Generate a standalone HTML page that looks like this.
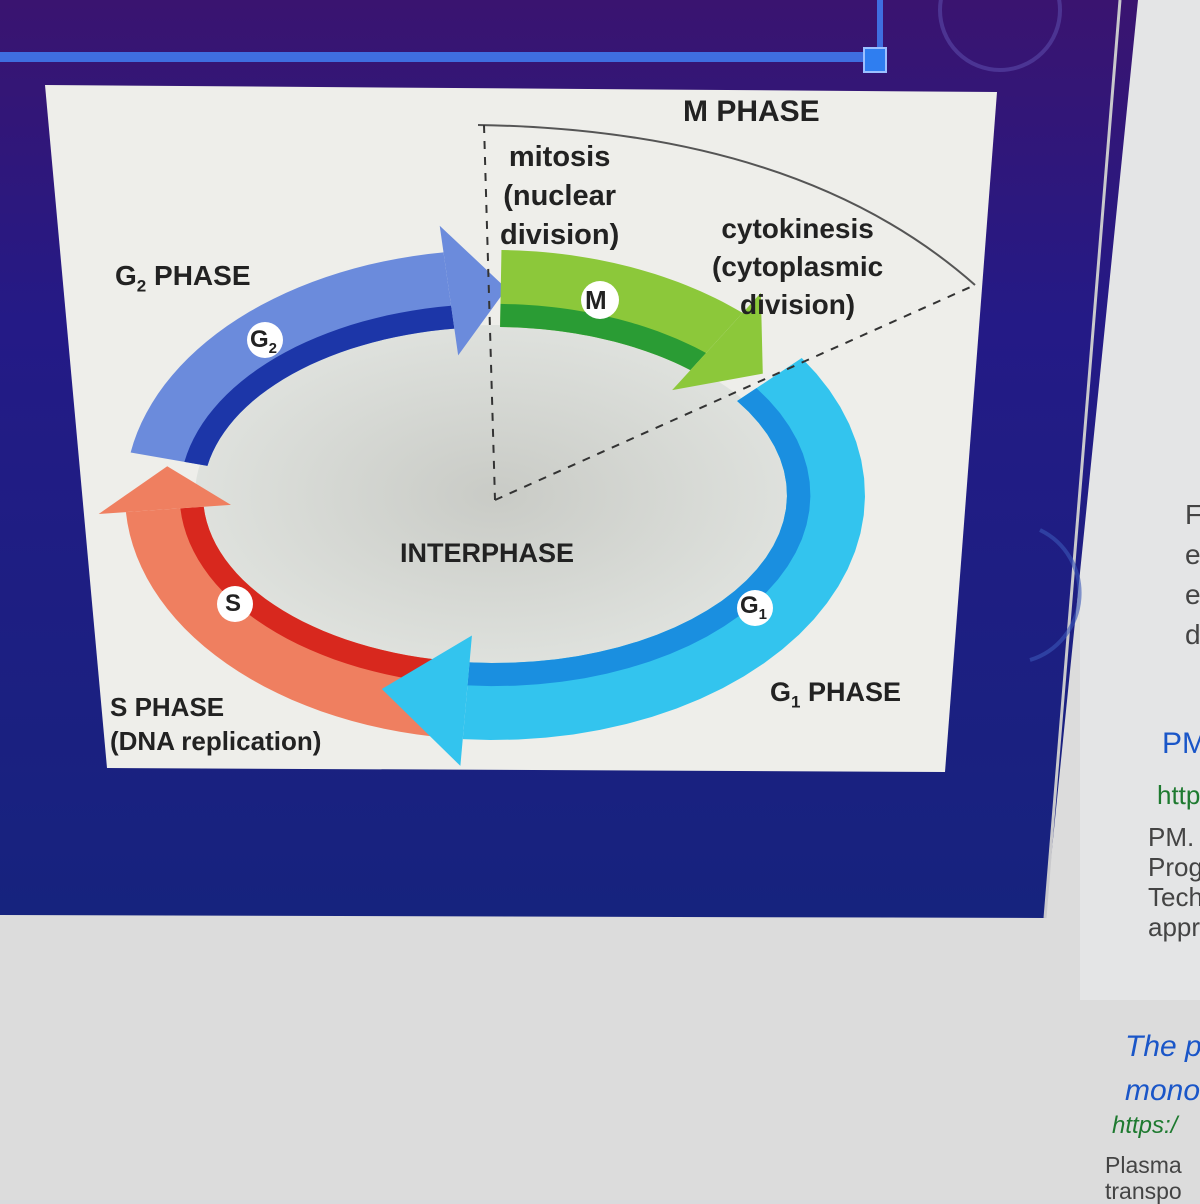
<!DOCTYPE html>
<html><head><meta charset="utf-8"><style>
html,body{margin:0;padding:0;width:1200px;height:1200px;overflow:hidden;background:#d9dbdd;font-family:"Liberation Sans",sans-serif}
#bg{position:absolute;left:0;top:0;width:1200px;height:1200px}
.t{position:absolute;font-family:"Liberation Sans",sans-serif;white-space:nowrap}
</style></head><body>
<svg id="bg" width="1200" height="1200" viewBox="0 0 1200 1200" xmlns="http://www.w3.org/2000/svg">
<defs>
<linearGradient id="scr" x1="0" y1="0" x2="0" y2="1">
<stop offset="0" stop-color="#3a1470"/><stop offset="0.35" stop-color="#241a86"/><stop offset="1" stop-color="#16237e"/>
</linearGradient>
<radialGradient id="inner" cx="0.5" cy="0.5" r="0.6">
<stop offset="0" stop-color="#c9cbc6"/><stop offset="1" stop-color="#e3e6e2"/>
</radialGradient>
</defs>
<rect width="1200" height="1200" fill="#dcdcdc"/>
<rect x="1080" y="0" width="120" height="1000" fill="#e4e5e6"/>
<polygon points="0,0 1138,0 1045,918 0,915" fill="url(#scr)"/>
<line x1="1120" y1="0" x2="1045" y2="918" stroke="#c9c9cc" stroke-width="3"/>
<rect x="0" y="52" width="868" height="10" fill="#3f6ee0"/>
<rect x="877" y="0" width="6" height="50" fill="#3f6ee0"/>
<rect x="864" y="48" width="22" height="24" fill="#2f7ef0" stroke="#9cc0ff" stroke-width="2"/>
<path d="M1040,530 A70,70 0 0 1 1030,660" fill="none" stroke="#3b56b8" stroke-width="4" opacity="0.6"/>
<circle cx="1000" cy="10" r="60" fill="none" stroke="#5a4aa8" stroke-width="4" opacity="0.6"/>
<polygon points="45,85 997,92 945,772 107,768" fill="#eeeeea"/>
<ellipse cx="495" cy="495" rx="300" ry="170" fill="url(#inner)"/>
<g id="ring"></g>
<path d="M478,125 Q800,130 975,285" fill="none" stroke="#555" stroke-width="2"/>
<line x1="484" y1="125" x2="495" y2="500" stroke="#333" stroke-width="2" stroke-dasharray="8,8"/>
<line x1="495" y1="500" x2="975" y2="285" stroke="#333" stroke-width="2" stroke-dasharray="8,8"/>
<circle cx="600" cy="300" r="19" fill="#fff"/>
<circle cx="265" cy="340" r="18" fill="#fff"/>
<circle cx="235" cy="604" r="18" fill="#fff"/>
<circle cx="755" cy="608" r="18" fill="#fff"/>
</svg>
<div class="t" style="left:683px;top:95px;font-size:30px;font-weight:bold;color:#222">M PHASE</div>
<div class="t" style="left:500px;top:138px;font-size:29px;font-weight:bold;color:#222;line-height:39px;text-align:center">mitosis<br>(nuclear<br>division)</div>
<div class="t" style="left:712px;top:210px;font-size:28px;font-weight:bold;color:#222;line-height:38px;text-align:center">cytokinesis<br>(cytoplasmic<br>division)</div>
<div class="t" style="left:115px;top:260px;font-size:28px;font-weight:bold;color:#222">G<sub style="font-size:17px">2</sub> PHASE</div>
<div class="t" style="left:585px;top:285px;font-size:26px;font-weight:bold;color:#222">M</div>
<div class="t" style="left:250px;top:326px;font-size:24px;font-weight:bold;color:#222">G<sub style="font-size:15px">2</sub></div>
<div class="t" style="left:225px;top:590px;font-size:24px;font-weight:bold;color:#222">S</div>
<div class="t" style="left:740px;top:592px;font-size:24px;font-weight:bold;color:#222">G<sub style="font-size:15px">1</sub></div>
<div class="t" style="left:400px;top:538px;font-size:27px;font-weight:bold;color:#222">INTERPHASE</div>
<div class="t" style="left:110px;top:690px;font-size:26px;font-weight:bold;color:#222;line-height:34px">S PHASE<br>(DNA replication)</div>
<div class="t" style="left:770px;top:677px;font-size:27px;font-weight:bold;color:#222">G<sub style="font-size:17px">1</sub> PHASE</div>
<div class="t" style="left:1185px;top:495px;font-size:28px;color:#444;line-height:40px">F<br>e<br>e<br>d</div>
<div class="t" style="left:1162px;top:727px;font-size:30px;color:#1a56c8">PM</div>
<div class="t" style="left:1157px;top:780px;font-size:26px;color:#1e7a30">http</div>
<div class="t" style="left:1148px;top:822px;font-size:26px;color:#444;line-height:30px">PM.<br>Prog<br>Tech<br>appr</div>
<div class="t" style="left:1125px;top:1025px;font-size:30px;color:#1a56c8;font-style:italic;line-height:44px">The p<br>mono</div>
<div class="t" style="left:1112px;top:1112px;font-size:24px;color:#1e7a30;font-style:italic">https:/</div>
<div class="t" style="left:1105px;top:1152px;font-size:23px;color:#444;line-height:26px">Plasma<br>transpo</div>
<script>
var cx=495,cy=495,RO=[370,245],RI=[292,168];
function pt(r,t){var a=t*Math.PI/180;return [cx+r[0]*Math.cos(a),cy+r[1]*Math.sin(a)];}
function lerp(a,b,f){return [a[0]+(b[0]-a[0])*f,a[1]+(b[1]-a[1])*f];}
function seg(t0,t1,tip,col,dark){
 var s="",n=30,i,t;
 var o=[],inn=[];
 for(i=0;i<=n;i++){t=t0+(t1-t0)*i/n;o.push(pt(RO,t));inn.push(pt(RI,t));}
 var p=o.concat(inn.slice().reverse());
 s='<polygon points="'+p.map(function(q){return q.join(",")}).join(" ")+'" fill="'+col+'"/>';
 var mid=[];var inr=[];
 for(i=0;i<=n;i++){t=t0+(t1-t0)*i/n;mid.push(lerp(pt(RI,t),pt(RO,t),0.3));inr.push(pt(RI,t));}
 var p2=mid.concat(inr.slice().reverse());
 s+='<polygon points="'+p2.map(function(q){return q.join(",")}).join(" ")+'" fill="'+dark+'"/>';
 var a=lerp(pt(RI,t1),pt(RO,t1),-0.35),b=lerp(pt(RI,t1),pt(RO,t1),1.35),c=lerp(pt(RI,tip),pt(RO,tip),0.5);
 s+='<polygon points="'+a.join(",")+' '+b.join(",")+' '+c.join(",")+'" fill="'+col+'"/>';
 return s;
}
var g=document.getElementById("ring");
g.innerHTML=
 seg(190,262,272,"#6b8bdc","#1c36a8")+
 seg(97,176,188,"#ef7f60","#d8281e")+
 seg(271,312,324,"#8cc83a","#2a9c34")+
 seg(326,455,470,"#33c4ee","#1a8fe0");
</script>
</body></html>
